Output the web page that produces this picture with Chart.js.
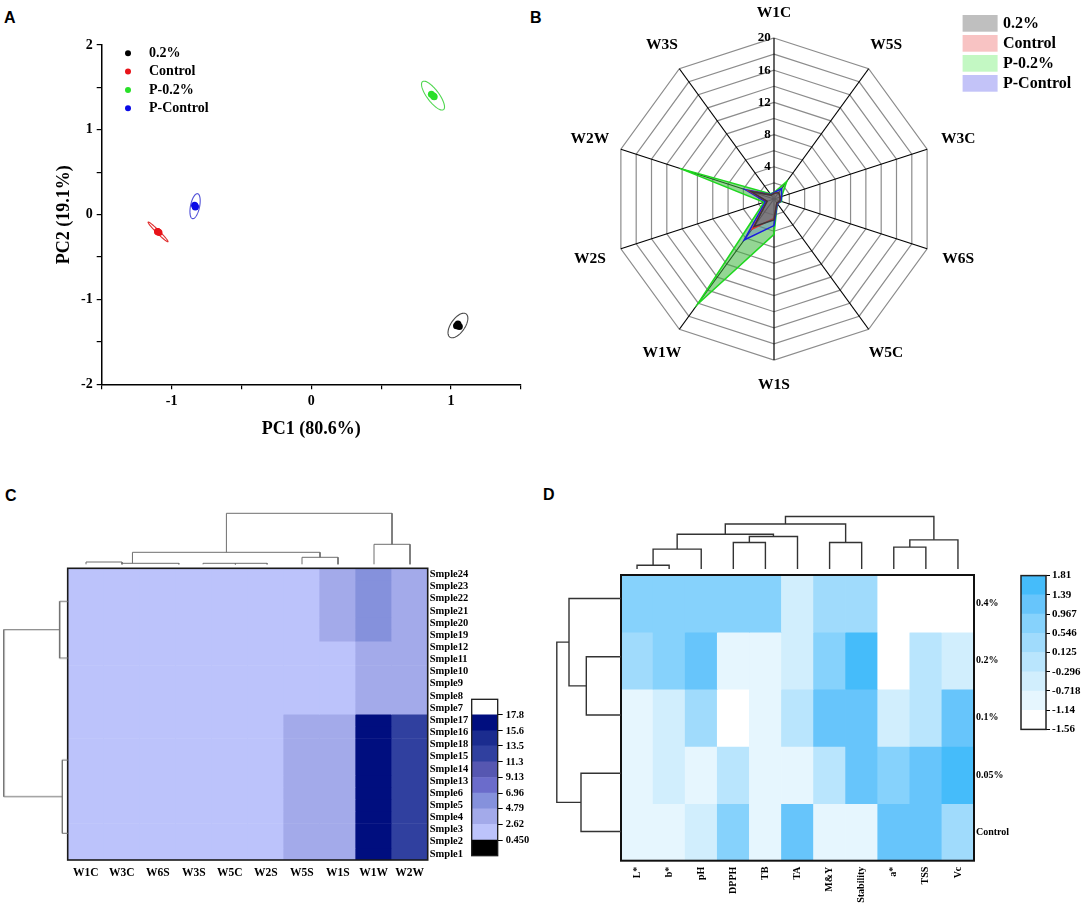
<!DOCTYPE html>
<html><head><meta charset="utf-8">
<script src="https://cdn.jsdelivr.net/npm/chart.js@4.4.1/dist/chart.umd.min.js"></script>
<style>
html,body{margin:0;padding:0;background:#fff;}
body{position:relative;width:1084px;height:905px;overflow:hidden;}
canvas{position:absolute;}
.lbl{position:absolute;font:bold 16px 'Liberation Sans',Arial,sans-serif;line-height:16px;color:#000;}
</style></head><body>
<div class="lbl" style="left:4px;top:10px">A</div>
<div class="lbl" style="left:530px;top:10px">B</div>
<div class="lbl" style="left:5px;top:488px">C</div>
<div class="lbl" style="left:543px;top:487px">D</div>
<script>
// ---------------- DATA ----------------
// Panel A: PCA scores
const pcaGroups = ['0.2%', 'Control', 'P-0.2%', 'P-Control'];
const pc1Scores = [[1.04, 1.05, 1.06], [-1.10, -1.09, -1.10], [0.86, 0.875, 0.88], [-0.835, -0.83, -0.83]];
const pc2Scores = [[-1.31, -1.29, -1.32], [-0.20, -0.21, -0.20], [1.42, 1.40, 1.39], [0.11, 0.10, 0.09]];
// confidence ellipse half-axis vectors (PC1, PC2 units)
const ellipseMajor = [[0.058, 0.137], [0.071, -0.116], [0.075, -0.165], [0.018, 0.147]];
const ellipseMinor = [[0.041, -0.047], [-0.0076, -0.0125], [-0.034, -0.042], [0.032, -0.010]];

// Panel B: radar (E-nose sensors)
const radarAxes = ['W1C', 'W5S', 'W3C', 'W6S', 'W5C', 'W1S', 'W1W', 'W2S', 'W2W', 'W3S'];
const radar02 = [0.7, 1.0, 0.8, 0.8, 0.6, 2.6, 4.2, 0.9, 3.0, 0.6];
const radarControl = [0.7, 1.0, 0.8, 0.8, 0.6, 2.4, 4.6, 0.9, 3.2, 0.6];
const radarP02 = [0.8, 2.7, 1.0, 1.0, 0.7, 4.4, 16.2, 1.3, 12.3, 0.8];
const radarPControl = [0.8, 1.6, 1.0, 0.9, 0.7, 3.3, 6.3, 1.1, 3.7, 0.7];

// Panel C: sensor heatmap
const sensorCols = ['W1C', 'W3C', 'W6S', 'W3S', 'W5C', 'W2S', 'W5S', 'W1S', 'W1W', 'W2W'];
const sampleRows = ['Smple24','Smple23','Smple22','Smple21','Smple20','Smple19','Smple12','Smple11','Smple10','Smple9','Smple8','Smple7',
  'Smple17','Smple16','Smple18','Smple15','Smple14','Smple13','Smple6','Smple5','Smple4','Smple3','Smple2','Smple1'];
const heatC = [
  [1.12,1.05,0.92,0.98,0.81,1.20,1.95,3.42,5.61,3.58],
  [1.10,1.03,0.90,0.97,0.80,1.18,1.92,3.38,5.55,3.55],
  [1.14,1.06,0.93,0.99,0.82,1.22,1.97,3.45,5.66,3.61],
  [1.11,1.04,0.91,0.98,0.81,1.19,1.94,3.40,5.58,3.57],
  [1.13,1.05,0.92,1.00,0.82,1.21,1.96,3.43,5.63,3.60],
  [1.12,1.04,0.92,0.98,0.81,1.20,1.95,3.41,5.60,3.58],
  [1.08,1.01,0.89,0.96,0.79,1.16,1.82,2.31,4.22,3.41],
  [1.07,1.00,0.88,0.95,0.78,1.15,1.80,2.29,4.18,3.38],
  [1.09,1.02,0.90,0.97,0.80,1.17,1.84,2.33,4.25,3.44],
  [1.08,1.01,0.89,0.96,0.79,1.16,1.81,2.30,4.20,3.40],
  [1.10,1.02,0.90,0.97,0.80,1.18,1.83,2.34,4.24,3.43],
  [1.07,1.00,0.88,0.95,0.78,1.15,1.79,2.28,4.17,3.37],
  [1.15,1.08,0.95,1.02,0.84,1.25,2.92,4.02,16.45,12.21],
  [1.16,1.09,0.96,1.03,0.85,1.26,2.94,4.05,16.52,12.26],
  [1.14,1.07,0.94,1.01,0.83,1.24,2.90,4.00,16.38,12.17],
  [1.13,1.06,0.93,1.00,0.82,1.23,2.88,3.97,16.30,12.12],
  [1.14,1.07,0.94,1.01,0.83,1.24,2.91,4.01,16.40,12.19],
  [1.15,1.08,0.95,1.02,0.84,1.25,2.93,4.03,16.47,12.23],
  [1.13,1.06,0.93,1.00,0.82,1.23,2.89,3.98,16.33,12.14],
  [1.12,1.05,0.92,0.99,0.81,1.22,2.87,3.95,16.25,12.09],
  [1.14,1.07,0.94,1.01,0.83,1.24,2.90,4.00,16.36,12.16],
  [1.15,1.08,0.95,1.02,0.84,1.25,2.92,4.03,16.44,12.20],
  [1.13,1.06,0.93,1.00,0.82,1.23,2.89,3.99,16.31,12.13],
  [1.14,1.07,0.94,1.01,0.83,1.24,2.91,4.01,16.39,12.18]
];
// dendrogram links: [leftPos, leftHeight, rightPos, rightHeight, height]
const colLinksC = [[0.5,0,1.5,0,2.3],[1.5,0,3.08,0,1],[3.75,0,4.65,0,1],[4.65,0,5.53,0,1],
  [6.5,0,7.5,0,7],[1.79,1,7.0,7,12],[8.5,0,9.5,0,20],[4.4,12,9.0,20,51]];
const rowLinksC = [[3.03,0,7.63,0,8.4],[15.89,0,21.83,0,5.7],[5.33,8.4,18.86,5.7,64]];
const levelsC = [0.45, 2.62, 4.79, 6.96, 9.13, 11.3, 13.5, 15.6, 17.8];
const levelLabelsC = ['0.450','2.62','4.79','6.96','9.13','11.3','13.5','15.6','17.8'];

// Panel D: quality heatmap
const traitCols = ['L*', 'b*', 'pH', 'DPPH', 'TB', 'TA', 'M&Y', 'Stability', 'a*', 'TSS', 'Vc'];
const treatRows = ['0.4%', '0.2%', '0.1%', '0.05%', 'Control'];
const heatD = [
  [0.76, 0.74, 0.77, 0.75, 0.73, -0.52, 0.33, 0.36, -1.42, -1.40, -1.43],
  [0.34, 0.78, 1.21, -0.92, -0.89, -0.49, 0.74, 1.62, -1.41, -0.08, -0.51],
  [-0.91, -0.48, 0.37, -1.45, -0.88, -0.11, 1.19, 1.22, -0.53, -0.12, 1.18],
  [-0.93, -0.47, -0.90, -0.09, -0.91, -0.92, -0.13, 1.23, 0.77, 1.20, 1.63],
  [-0.89, -0.94, -0.52, 0.76, -0.90, 1.21, -0.91, -0.88, 1.19, 1.22, 0.33]
];
const colLinksD = [[0.5,0,1.5,0,3.7],[1.0,3.7,2.5,0,20],[3.5,0,4.5,0,26.7],[4.0,26.7,5.5,0,32.7],
  [1.75,20,4.75,32.7,35],[6.5,0,7.5,0,26.7],[3.25,35,7.0,26.7,45.3],[8.5,0,9.5,0,22],
  [9.0,22,10.5,0,29.3],[5.125,45.3,9.75,29.3,52.7]];
const rowLinksD = [[1.5,0,2.5,0,34.7],[0.5,0,2.0,34.7,52],[3.5,0,4.5,0,40],[1.25,52,4.0,40,64.2]];
const levelsD = [-1.56, -1.14, -0.718, -0.296, 0.125, 0.546, 0.967, 1.39, 1.81];
const levelLabelsD = ['-1.56','-1.14','-0.718','-0.296','0.125','0.546','0.967','1.39','1.81'];

// ---------------- STYLE ----------------
const serif = "'Liberation Serif','Times New Roman',serif";
Chart.defaults.font.family = serif;
Chart.defaults.color = '#000';
Chart.defaults.animation = false;
const pcaColors = ['#000000', '#e8141a', '#28e028', '#0a0ae6'];
const ellColors = ['#4a4a4a', '#e03030', '#4fd64f', '#5050d8'];
const bandColorsC = ['#bcc3fb','#a3aaea','#8591dc','#6b6ccb','#5657b1','#30409f','#1b2c8f','#000e7f'];
const bandColorsD = ['#ffffff','#e6f6fe','#d1eefd','#b9e5fd','#a0dbfc','#86d2fc','#67c5fb','#45bcfa'];
const noGrid = {display: false, drawTicks: false};

function mk(left, top, w, h) {
  const c = document.createElement('canvas');
  c.width = w; c.height = h;
  c.style.left = left + 'px'; c.style.top = top + 'px';
  c.style.width = w + 'px'; c.style.height = h + 'px';
  document.body.appendChild(c);
  return c;
}
function bandColor(v, levels, colors, under, over) {
  if (v < levels[0]) return under;
  for (let k = 0; k < levels.length - 1; k++) if (v < levels[k + 1]) return colors[k];
  return over;
}
const mean = a => a.reduce((s, v) => s + v, 0) / a.length;
const framePlugin = (w, col) => ({id: 'frame', afterDraw(ch) {
  const a = ch.chartArea, ctx = ch.ctx; ctx.save(); ctx.strokeStyle = col; ctx.lineWidth = w;
  ctx.strokeRect(a.left, a.top, a.right - a.left, a.bottom - a.top); ctx.restore(); }});

// ---------------- PANEL A ----------------
const ellPlugin = {id: 'ell', beforeDatasetsDraw(ch) {
  const {ctx, scales: {x, y}} = ch; ctx.save();
  pcaGroups.forEach((g, i) => {
    const cx = mean(pc1Scores[i]), cy = mean(pc2Scores[i]);
    const a = ellipseMajor[i], b = ellipseMinor[i];
    ctx.beginPath();
    for (let k = 0; k <= 90; k++) {
      const t = k / 90 * 2 * Math.PI;
      const px = x.getPixelForValue(cx + a[0] * Math.cos(t) + b[0] * Math.sin(t));
      const py = y.getPixelForValue(cy + a[1] * Math.cos(t) + b[1] * Math.sin(t));
      k ? ctx.lineTo(px, py) : ctx.moveTo(px, py);
    }
    ctx.closePath(); ctx.strokeStyle = ellColors[i]; ctx.lineWidth = 1.1; ctx.stroke();
  });
  ctx.restore(); }};
const legendA = {id: 'legA', afterDraw(ch) {
  const ctx = ch.ctx; ctx.save(); ctx.font = `bold 14px ${serif}`; ctx.textBaseline = 'middle';
  pcaGroups.forEach((g, i) => {
    const y = 53.3 + i * 18.3;
    ctx.fillStyle = pcaColors[i]; ctx.beginPath(); ctx.arc(128, y, 3, 0, 2 * Math.PI); ctx.fill();
    ctx.fillStyle = '#000'; ctx.fillText(g, 149, y);
  });
  ctx.restore(); }};
const axA = (extra) => Object.assign({
  type: 'linear',
  ticks: {stepSize: 0.5, autoSkip: false, maxRotation: 0, padding: 4,
    callback: v => Number.isInteger(v) ? String(v) : '',
    font: {family: serif, weight: 'bold', size: 14}},
  grid: {drawOnChartArea: false, drawTicks: true, tickLength: 5, color: '#000', lineWidth: 1.2},
  border: {display: true, color: '#000', width: 1.5}
}, extra);
new Chart(mk(0, 0, 540, 445), {
  type: 'scatter',
  data: {datasets: pcaGroups.map((g, i) => ({label: g,
    data: pc1Scores[i].map((x, k) => ({x, y: pc2Scores[i][k]})),
    backgroundColor: pcaColors[i], borderWidth: 0, pointRadius: 3.5}))},
  options: {responsive: false,
    layout: {padding: {left: 0, top: 45, right: 19.2, bottom: 0}},
    plugins: {legend: {display: false}, tooltip: {enabled: false}},
    scales: {
      x: axA({min: -1.5, max: 1.5, afterFit: s => { s.height = 60.7; },
        title: {display: true, text: 'PC1 (80.6%)', font: {family: serif, weight: 'bold', size: 18}, padding: {top: 0, bottom: 5}}}),
      y: axA({min: -2, max: 2, afterFit: s => { s.width = 101.7; },
        title: {display: true, text: 'PC2 (19.1%)', font: {family: serif, weight: 'bold', size: 18}, padding: {top: 54, bottom: 0}}})
    }},
  plugins: [ellPlugin, legendA]
});

// ---------------- PANEL B ----------------
const radarGroups = ['0.2%', 'Control', 'P-0.2%', 'P-Control'];
const legendFillB = ['#bfbfbf', '#f8c3c3', '#c3f8c3', '#c3c3f8'];
const legendB = {id: 'legB', afterDraw(ch) {
  const ctx = ch.ctx; ctx.save(); ctx.font = `bold 16px ${serif}`; ctx.textBaseline = 'middle';
  radarGroups.forEach((g, i) => {
    const y = 15 + i * 20;
    ctx.fillStyle = legendFillB[i]; ctx.fillRect(498.6, y, 35, 16.7);
    ctx.fillStyle = '#000'; ctx.fillText(g, 539, y + 8.7);
  });
  ctx.restore(); }};
const radarLabels = {id: 'rl', afterDraw(ch) {
  const r = ch.scales.r, ctx = ch.ctx; ctx.save();
  ctx.font = `bold 15.5px ${serif}`; ctx.textAlign = 'center'; ctx.textBaseline = 'middle'; ctx.fillStyle = '#000';
  radarAxes.forEach((lab, i) => {
    const ang = r.getIndexAngle(i);
    const p = r.getPointPosition(i, r.drawingArea + 25 + 8 * Math.abs(Math.sin(ang)));
    ctx.fillText(lab, p.x, p.y);
  });
  ctx.restore(); }};
new Chart(mk(464, 0, 620, 400), {
  type: 'radar',
  data: {labels: radarAxes, datasets: [
    {label: '0.2%', data: radar02, borderColor: '#3a3a3a', backgroundColor: 'rgba(80,80,95,0.45)', order: 0},
    {label: 'Control', data: radarControl, borderColor: '#e03030', backgroundColor: 'rgba(235,110,110,0.3)', order: 1},
    {label: 'P-0.2%', data: radarP02, borderColor: '#1ed81e', backgroundColor: 'rgba(60,180,60,0.55)', order: 3},
    {label: 'P-Control', data: radarPControl, borderColor: '#1a1ae0', backgroundColor: 'rgba(90,90,220,0.3)', order: 2}
  ].map(d => Object.assign(d, {fill: true, borderWidth: 1.5, pointRadius: 0, tension: 0}))},
  options: {responsive: false, layout: {padding: {top: 31.7, bottom: 32.7, left: 0, right: 0}},
    plugins: {legend: {display: false}, tooltip: {enabled: false}},
    scales: {r: {min: 0, max: 20,
      ticks: {stepSize: 2, showLabelBackdrop: false, backdropPadding: 0, color: '#000',
        font: {family: serif, weight: 'bold', size: 13},
        callback: v => v % 4 === 0 ? String(v) + '\u2007'.repeat(String(v).length + 1) : ''},
      grid: {circular: false, color: '#8c8c8c', lineWidth: 1.2},
      angleLines: {color: '#000', lineWidth: 1.2},
      pointLabels: {display: false}
    }}},
  plugins: [legendB, radarLabels]
});

// ---------------- DENDROGRAMS ----------------
function dendro(canvas, links, pad, xr, yr, vertical, color, width) {
  const pts = l => vertical
    ? [{x: l[0], y: l[1]}, {x: l[0], y: l[4]}, {x: l[2], y: l[4]}, {x: l[2], y: l[3]}]
    : [{x: l[1], y: l[0]}, {x: l[4], y: l[0]}, {x: l[4], y: l[2]}, {x: l[3], y: l[2]}];
  new Chart(canvas, {type: 'scatter',
    data: {datasets: links.map(l => ({data: pts(l), showLine: true, pointRadius: 0,
      borderColor: color, borderWidth: width, tension: 0, clip: false}))},
    options: {responsive: false, layout: {padding: pad},
      plugins: {legend: {display: false}, tooltip: {enabled: false}},
      scales: {x: Object.assign({type: 'linear', display: false}, xr),
               y: Object.assign({type: 'linear', display: false}, yr)}}});
}

// ---------------- PANEL C ----------------
new Chart(mk(65, 560, 420, 340), {
  type: 'bar',
  data: {labels: sensorCols, datasets: sampleRows.map((r, i) => ({label: r,
    data: sensorCols.map(() => [i, i + 1]),
    backgroundColor: heatC[i].map(v => bandColor(v, levelsC, bandColorsC, '#000', '#fff')),
    borderWidth: 0, grouped: false, categoryPercentage: 1, barPercentage: 1}))},
  options: {responsive: false,
    layout: {padding: {left: 2.7, top: 4.3, right: 0, bottom: 0}},
    plugins: {legend: {display: false}, tooltip: {enabled: false}},
    scales: {
      x: {type: 'category', afterFit: s => { s.height = 40; },
        ticks: {autoSkip: false, maxRotation: 0, padding: 6, font: {family: serif, weight: 'bold', size: 11.5}},
        grid: noGrid, border: {display: false}},
      y: {type: 'linear', position: 'right', min: 0, max: 24, reverse: true,
        afterFit: s => { s.width = 57.3; },
        afterBuildTicks: s => { s.ticks = sampleRows.map((_, i) => ({value: i + 0.5})); },
        ticks: {autoSkip: false, padding: 2, callback: v => sampleRows[Math.floor(v)],
          font: {family: serif, weight: 'bold', size: 10.5}},
        grid: noGrid, border: {display: false}}
    }},
  plugins: [framePlugin(1.6, '#1a1a1a')]
});
dendro(mk(62.7, 505, 370, 62), colLinksC, {left: 5, right: 5, top: 0, bottom: 2.7},
  {min: 0, max: 10}, {min: 0, max: 59.3}, true, '#6e6e6e', 1);
dendro(mk(0, 562.3, 67.7, 299.7), rowLinksC, {left: 2, right: 0, top: 2, bottom: 2},
  {min: 0, max: 65.7, reverse: true}, {min: 0, max: 24, reverse: true}, false, '#6e6e6e', 1);
// colorbar C
const bandStepC = levelsC[1] - levelsC[0];
const barsC = [{lo: levelsC[0] - bandStepC, hi: levelsC[0], c: '#000'}]
  .concat(levelsC.slice(0, -1).map((v, k) => ({lo: v, hi: levelsC[k + 1], c: bandColorsC[k]})))
  .concat([{lo: levelsC[8], hi: levelsC[8] + bandStepC, c: '#fff'}]);
new Chart(mk(466, 690, 74, 175), {
  type: 'bar',
  data: {labels: ['c'], datasets: barsC.map(b => ({data: [[b.lo, b.hi]], backgroundColor: b.c,
    borderWidth: 0, grouped: false, categoryPercentage: 1, barPercentage: 1}))},
  options: {responsive: false,
    layout: {padding: {left: 5.7, top: 4, right: 0, bottom: 4}},
    plugins: {legend: {display: false}, tooltip: {enabled: false}},
    scales: {
      x: {display: false},
      y: {type: 'linear', position: 'right', min: levelsC[0] - bandStepC, max: levelsC[8] + bandStepC,
        afterFit: s => { s.width = 42.3; },
        afterBuildTicks: s => { s.ticks = levelsC.map(v => ({value: v})); },
        ticks: {autoSkip: false, padding: 3, callback: (v, i) => levelLabelsC[i],
          font: {family: serif, weight: 'bold', size: 10.5}},
        grid: {drawOnChartArea: false, drawTicks: true, tickLength: 5, color: '#000'},
        border: {display: false}}
    }},
  plugins: [framePlugin(1.3, '#1a1a1a')]
});

// ---------------- PANEL D ----------------
new Chart(mk(619, 567, 405, 338), {
  type: 'bar',
  data: {labels: traitCols, datasets: treatRows.map((r, i) => ({label: r,
    data: traitCols.map(() => [i, i + 1]),
    backgroundColor: heatD[i].map(v => bandColor(v, levelsD, bandColorsD, '#fff', bandColorsD[7])),
    borderWidth: 0, grouped: false, categoryPercentage: 1, barPercentage: 1}))},
  options: {responsive: false,
    layout: {padding: {left: 2, top: 2.3, right: 0, bottom: 0}},
    plugins: {legend: {display: false}, tooltip: {enabled: false}},
    scales: {
      x: {type: 'category', afterFit: s => { s.height = 44.3; },
        ticks: {autoSkip: false, minRotation: 90, maxRotation: 90, padding: 6,
          font: {family: serif, weight: 'bold', size: 10}},
        grid: noGrid, border: {display: false}},
      y: {type: 'linear', position: 'right', min: 0, max: 5, reverse: true,
        afterFit: s => { s.width = 50; },
        afterBuildTicks: s => { s.ticks = treatRows.map((_, i) => ({value: i + 0.5})); },
        ticks: {autoSkip: false, padding: 2, callback: v => treatRows[Math.floor(v)],
          font: {family: serif, weight: 'bold', size: 10}},
        grid: noGrid, border: {display: false}}
    }},
  plugins: [framePlugin(2, '#111')]
});
dendro(mk(616, 508, 363, 63.3), colLinksD, {left: 5, right: 5, top: 2, bottom: 2},
  {min: 0, max: 11}, {min: 0, max: 59.3}, true, '#333', 1.4);
dendro(mk(552, 567, 69, 296), rowLinksD, {left: 4.8, right: 0, top: 2.3, bottom: 2.3},
  {min: 0, max: 64.2, reverse: true}, {min: 0, max: 5, reverse: true}, false, '#333', 1.4);
// colorbar D
const barsD = levelsD.slice(0, -1).map((v, k) => ({lo: v, hi: levelsD[k + 1], c: bandColorsD[k]}));
new Chart(mk(1016, 567, 68, 171), {
  type: 'bar',
  data: {labels: ['d'], datasets: barsD.map(b => ({data: [[b.lo, b.hi]], backgroundColor: b.c,
    borderWidth: 0, grouped: false, categoryPercentage: 1, barPercentage: 1}))},
  options: {responsive: false,
    layout: {padding: {left: 5, top: 4.7, right: 0, bottom: 4.7}},
    plugins: {legend: {display: false}, tooltip: {enabled: false}},
    scales: {
      x: {display: false},
      y: {type: 'linear', position: 'right', min: levelsD[0], max: levelsD[8],
        afterFit: s => { s.width = 38; },
        afterBuildTicks: s => { s.ticks = levelsD.map(v => ({value: v})); },
        ticks: {autoSkip: false, padding: 2, callback: (v, i) => levelLabelsD[i],
          font: {family: serif, weight: 'bold', size: 11}},
        grid: {drawOnChartArea: false, drawTicks: true, tickLength: 4, color: '#000'},
        border: {display: false}}
    }},
  plugins: [framePlugin(1.5, '#222')]
});
</script>
</body></html>
